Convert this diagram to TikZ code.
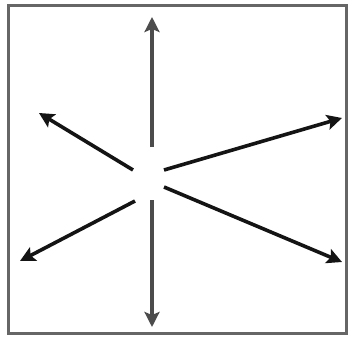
\documentclass[tikz,border=0pt]{standalone}
\usetikzlibrary{arrows.meta}
\begin{document}
\begin{tikzpicture}[x=1pt,y=1pt,
  ray/.style={line width=3.6pt,-{Stealth[length=15pt,width=15pt,inset=3pt]},draw=black!92},
  vray/.style={ray,draw=black!70}]
\useasboundingbox (0,0) rectangle (348,341);
\fill[white] (0,0) rectangle (348,341);
\draw[line width=3pt,black!60] (8,8) rectangle (346,335);
% start points
\coordinate (su) at (152,194);
\coordinate (sd) at (152,141);
\coordinate (sul) at (133,171);
\coordinate (sur) at (164,171);
\coordinate (sll) at (135,140);
\coordinate (slr) at (164,154);
% tips
\coordinate (tu) at (152,324);
\coordinate (td) at (152,14);
\coordinate (tul) at (39,228);
\coordinate (tur) at (342,223);
\coordinate (tll) at (20,80);
\coordinate (tlr) at (342,79);
\draw[vray] (su) -- (tu);
\draw[vray] (sd) -- (td);
\draw[ray] (sul) -- (tul);
\draw[ray] (sur) -- (tur);
\draw[ray] (sll) -- (tll);
\draw[ray] (slr) -- (tlr);
\end{tikzpicture}
\end{document}
